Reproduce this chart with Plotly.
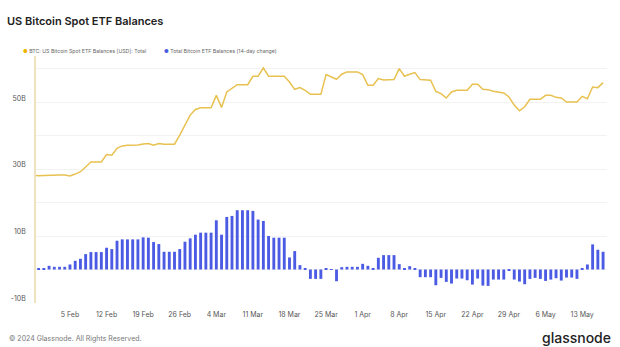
import pandas as pd
import plotly.graph_objects as go

dates = pd.date_range("2024-01-29", "2024-05-17", freq="D")

# BTC: US Bitcoin Spot ETF Balances [USD]: Total (billions)
balance_total = [
    28.2, 28.0, 28.1, 28.2, 28.3, 28.2, 28.2, 27.9, 28.5, 29.2,   # Jan29-Feb7
    30.6, 32.1, 32.1, 32.1, 34.3, 34.1, 36.2, 36.9, 37.1, 37.1,   # Feb8-Feb17
    37.2, 37.5, 37.6, 37.1, 37.6, 37.4, 37.4, 37.4, 40.1, 43.1,   # Feb18-Feb27
    46.1, 47.8, 48.3, 48.3, 48.3, 52.0, 48.4, 53.0, 54.2, 55.2,   # Feb28-Mar8
    55.2, 55.2, 57.7, 57.7, 60.2, 57.7, 57.7, 57.7, 57.7, 56.0,   # Mar9-Mar18
    53.8, 54.3, 53.5, 52.3, 52.3, 52.3, 58.2, 57.5, 56.8, 58.3,   # Mar19-Mar28
    59.0, 59.0, 59.0, 58.2, 55.0, 55.0, 57.0, 56.6, 56.7, 56.7,   # Mar29-Apr7
    60.0, 57.7, 58.3, 58.8, 56.7, 56.5, 56.5, 53.2, 52.5, 51.2,   # Apr8-Apr17
    53.0, 53.5, 53.5, 53.5, 55.3, 55.3, 53.8, 53.7, 53.2, 53.0,   # Apr18-Apr27
    52.7, 51.5, 49.1, 47.4, 48.6, 50.8, 50.8, 50.8, 52.0, 52.0,   # Apr28-May7
    51.4, 51.2, 50.0, 50.0, 50.0, 51.7, 51.0, 54.5, 54.3, 55.8,   # May8-May17
]

# Total Bitcoin ETF Balances (14-day change) (billions)
balance_change_14d = [
    None, 0.2, 0.2, 1.1, 0.8, 0.8, 0.8, 1.5, 2.6, 3.2,            # Jan29-Feb7
    4.6, 5.2, 5.2, 5.2, 6.5, 6.1, 8.6, 9.0, 9.0, 9.0,             # Feb8-Feb17
    9.0, 9.6, 9.5, 8.2, 7.6, 5.3, 5.3, 5.3, 6.1, 8.3,             # Feb18-Feb27
    9.3, 10.4, 11.0, 11.0, 11.0, 14.7, 10.4, 15.7, 16.0, 17.7,    # Feb28-Mar8
    17.7, 17.7, 17.5, 14.9, 14.5, 10.0, 9.5, 9.5, 9.5, 3.6,       # Mar9-Mar18
    5.5, 1.3, 0.2, -2.8, -2.8, -2.8, 0.3, 0.05, -3.5, 0.7,        # Mar19-Mar28
    0.8, 0.8, 0.8, 1.7, 1.1, 0.3, 3.5, 4.3, 4.3, 4.3,             # Mar29-Apr7
    1.6, 0.2, 1.0, 0.3, -2.3, -2.3, -2.3, -4.7, -2.5, -3.7,       # Apr8-Apr17
    -4.2, -2.7, -2.7, -3.2, -4.5, -2.7, -4.8, -4.9, -3.0, -3.0,   # Apr18-Apr27
    -3.0, -0.3, -3.0, -3.6, -4.4, -2.8, -2.5, -2.8, -3.4, -3.0,   # Apr28-May7
    -2.6, -3.3, -2.4, -2.4, -2.8, 0.3, 1.5, 7.5, 5.9, 5.3,        # May8-May17
]

y_tick_vals = [-10, 0, 10, 20, 30, 40, 50, 60]
y_tick_text = ["-10B", "", "10B", "", "30B", "", "50B", ""]

x_tick_vals = pd.date_range("2024-02-05", "2024-05-13", freq="7D")

LINE_COLOR = "#E8C150"
BAR_COLOR = "#4B5BE3"
FONT = "Inter"

fig = go.Figure()
fig.add_trace(go.Bar(
    x=dates, y=balance_change_14d,
    marker=dict(color=BAR_COLOR, line=dict(width=0)),
    name="Total Bitcoin ETF Balances (14-day change)",
    showlegend=False,
))
fig.add_trace(go.Scatter(
    x=dates, y=balance_total, mode="lines",
    line=dict(color=LINE_COLOR, width=1.5),
    name="BTC: US Bitcoin Spot ETF Balances [USD]: Total",
    showlegend=False,
))

W, H = 620, 347
L, R, T, B = 36, 13, 56, 44
pw, ph = W - L - R, H - T - B

def px(x):
    return (x - L) / pw

def py(y):
    return (H - B - y) / ph

annotations = [
    dict(xref="paper", yref="paper", x=px(21), y=py(51), xanchor="left", yanchor="middle",
         text='<span style="color:#F0B400">●</span> BTC: US Bitcoin Spot ETF Balances [USD]: Total',
         showarrow=False, font=dict(family=FONT, size=5.2, color="#666")),
    dict(xref="paper", yref="paper", x=px(162), y=py(51), xanchor="left", yanchor="middle",
         text='<span style="color:#4B5BE3">●</span> Total Bitcoin ETF Balances (14-day change)',
         showarrow=False, font=dict(family=FONT, size=5.2, color="#666")),
    dict(xref="paper", yref="paper", x=px(7), y=py(338), xanchor="left", yanchor="middle",
         text="© 2024 Glassnode. All Rights Reserved.",
         showarrow=False, font=dict(family=FONT, size=7, color="#777")),
    dict(xref="paper", yref="paper", x=px(613), y=py(337), xanchor="right", yanchor="middle",
         text="glassnode",
         showarrow=False, font=dict(family=FONT, size=14, color="#222", weight=500)),
]

fig.update_layout(
    width=W, height=H,
    margin=dict(l=L, r=R, t=T, b=B, pad=0),
    paper_bgcolor="white", plot_bgcolor="white",
    title=dict(text="US Bitcoin Spot ETF Balances", xref="container", yref="container",
               x=7 / W, y=1 - 21 / H, xanchor="left", yanchor="middle",
               font=dict(family=FONT, size=11, color="#222", weight=600)),
    bargap=0.45,
    annotations=annotations,
    showlegend=False,
)
fig.update_xaxes(
    type="date",
    range=["2024-01-29 12:00", "2024-05-17 18:00"],
    tickvals=x_tick_vals, tickformat="%-d %b",
    tickfont=dict(family=FONT, size=7, color="#555"),
    showgrid=False, zeroline=False, showline=False,
    ticks="", ticklabelstandoff=6,
)
fig.update_yaxes(
    range=[-10, 63.75],
    tickvals=y_tick_vals, ticktext=y_tick_text,
    tickfont=dict(family=FONT, size=7, color="#555"),
    showgrid=True, gridcolor="#F2F2F2", gridwidth=1,
    zeroline=False,
    showline=True, linecolor="#EFE3BF", linewidth=1.5,
    ticks="", ticklabelstandoff=7, ticklabelshift=-4,
)

fig.write_html("out.html")
